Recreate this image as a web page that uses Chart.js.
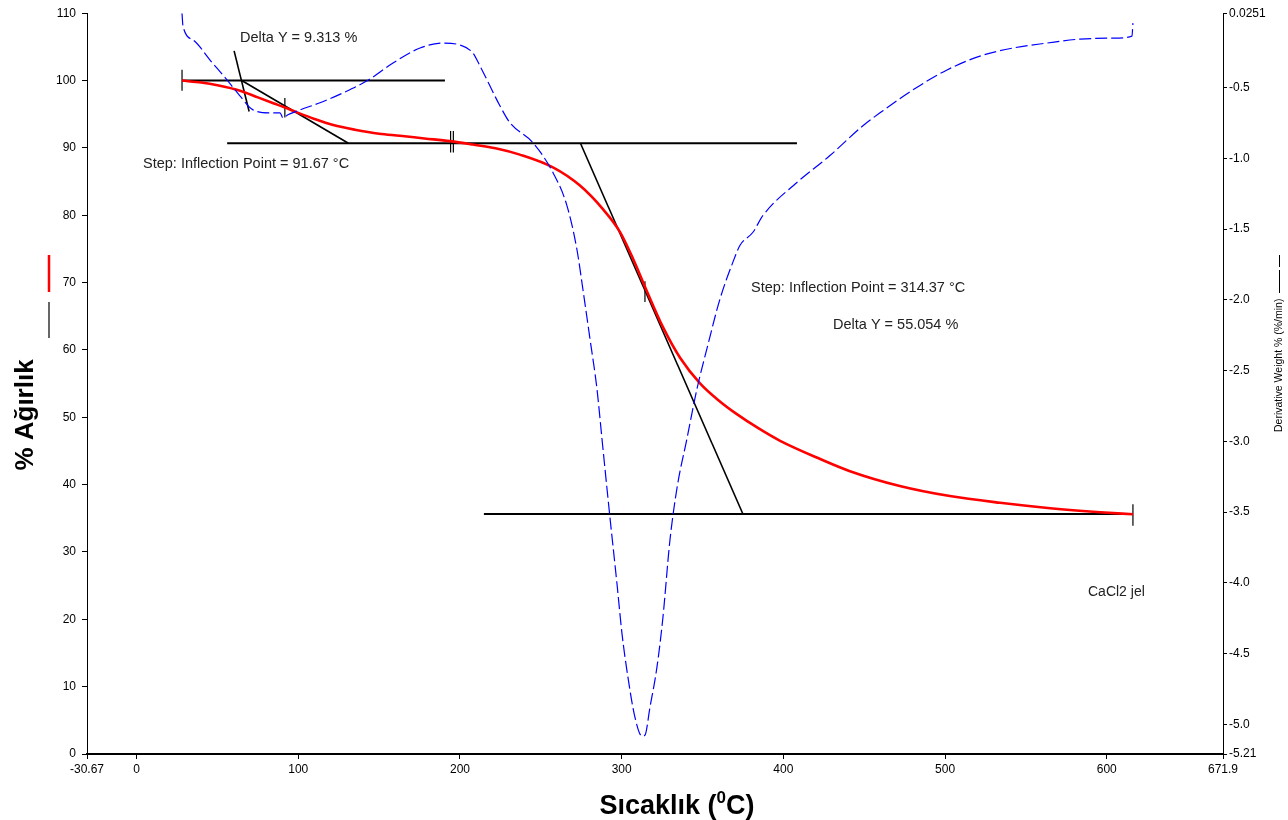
<!DOCTYPE html>
<html>
<head>
<meta charset="utf-8">
<script src="https://cdn.jsdelivr.net/npm/chart.js@4.4.1/dist/chart.umd.min.js"></script>
<style>
  html, body { margin: 0; padding: 0; background: #fff; }
  canvas { display: block; }
</style>
</head>
<body>
<canvas id="tgaChart" width="1288" height="820"></canvas>
<script>
// weight curve (red), left axis
const tgaTemp = [28.1, 40, 50, 64, 75, 85, 91.7, 100, 110, 121.6, 135, 150, 162.8, 178, 193.8, 208, 222, 237, 257.5, 274.2, 288.4, 299, 307.1, 315.8, 325.7, 336.2, 348.6, 360, 371, 385, 398, 422.8, 441.2, 472, 503, 534, 565, 596, 616.2];
const tgaWeight = [100.0, 99.7, 99.3, 98.5, 97.5, 96.6, 96.0, 95.2, 94.3, 93.4, 92.7, 92.1, 91.8, 91.4, 91.0, 90.5, 89.95, 89.0, 87.1, 84.4, 80.9, 77.5, 73.5, 68.6, 63.3, 58.8, 55.0, 52.5, 50.5, 48.3, 46.5, 43.8, 42.0, 39.8, 38.3, 37.3, 36.5, 35.9, 35.6];

// derivative curve (blue dashed), right axis
const dtgTemp = [28.08, 28.7, 35.1, 45.4, 55.9, 63.9, 72.0, 82.5, 88.7, 90.5, 93.6, 101.1, 113.4, 127.7, 142.5, 158.6, 175.3, 189.5, 200, 208, 212.4, 224.7, 230.9, 245.1, 257.5, 266.1, 272.3, 276, 280.4, 284.7, 287.8, 290.9, 292.8, 297.1, 300.2, 303.9, 308.2, 312.6, 314.4, 317.5, 321.8, 325.5, 329.8, 334.2, 340.4, 346.6, 352.7, 360.8, 368.8, 373.2, 381.2, 387.4, 408.4, 428.8, 449.2, 461.6, 480.1, 501.2, 521.6, 542, 563, 583.5, 603.9, 615.6, 616.2];
const dtgDeriv = [0.025, -0.066, -0.165, -0.306, -0.446, -0.559, -0.658, -0.679, -0.679, -0.714, -0.693, -0.658, -0.608, -0.538, -0.453, -0.327, -0.221, -0.186, -0.200, -0.256, -0.348, -0.629, -0.749, -0.890, -1.101, -1.333, -1.643, -1.924, -2.276, -2.628, -2.980, -3.332, -3.543, -4.007, -4.359, -4.669, -4.950, -5.084, -5.077, -4.880, -4.598, -4.247, -3.705, -3.332, -2.980, -2.628, -2.347, -1.995, -1.734, -1.615, -1.523, -1.404, -1.171, -0.981, -0.770, -0.664, -0.517, -0.376, -0.278, -0.221, -0.186, -0.158, -0.151, -0.137, -0.045];

// step analysis lines, [t1, w1, t2, w2] on the weight axis
const baseLines = [
  [28.1, 100, 190.7, 100],
  [56, 90.687, 408.4, 90.687],
  [214.8, 35.633, 616.2, 35.633]
];
const tangentLines = [
  [60.3, 104.4, 69.6, 95.4],
  [65.0, 100, 131.0, 90.687],
  [274.5, 90.687, 375.0, 35.633]
];
const markTicks = [
  [28.1, 101.6, 28.1, 98.5],
  [91.7, 97.4, 91.7, 94.5],
  [194.2, 92.5, 194.2, 89.3],
  [195.9, 92.5, 195.9, 89.3],
  [314.4, 70.2, 314.4, 67.1],
  [616.2, 37.1, 616.2, 33.9]
];

const xTicks = [-30.67, 0, 100, 200, 300, 400, 500, 600, 671.9];
const yTicks = [0, 10, 20, 30, 40, 50, 60, 70, 80, 90, 100, 110];
const y2Ticks = [-5.21, -5.0, -4.5, -4.0, -3.5, -3.0, -2.5, -2.0, -1.5, -1.0, -0.5, 0.0251];

const FONT = '"Liberation Sans", Arial, sans-serif';

function toPoints(xs, ys) {
  return xs.map((x, i) => ({ x: x, y: ys[i] }));
}

function segDatasets(list, width) {
  return list.map(s => ({
    data: [{ x: s[0], y: s[1] }, { x: s[2], y: s[3] }],
    yAxisID: 'y',
    borderColor: '#000',
    borderWidth: width,
    pointRadius: 0,
    showLine: true,
    tension: 0
  }));
}

const datasets = [
  {
    label: 'Derivative Weight',
    data: toPoints(dtgTemp, dtgDeriv),
    yAxisID: 'y1',
    borderColor: '#0000ff',
    borderWidth: 1.2,
    borderDash: [12, 4],
    pointRadius: 0,
    showLine: true,
    cubicInterpolationMode: 'monotone'
  },
  {
    label: 'Weight',
    data: toPoints(tgaTemp, tgaWeight),
    yAxisID: 'y',
    borderColor: '#ff0000',
    borderWidth: 2.6,
    pointRadius: 0,
    showLine: true,
    cubicInterpolationMode: 'monotone'
  }
].concat(segDatasets(baseLines, 2), segDatasets(tangentLines, 1.6), segDatasets(markTicks, 1.2));

// titles, annotation texts and the little legend samples
const decorations = {
  id: 'decorations',
  afterDraw(chart) {
    const ctx = chart.ctx;
    ctx.save();
    ctx.fillStyle = '#000';

    // left title
    ctx.save();
    ctx.translate(26, 415);
    ctx.rotate(-Math.PI / 2);
    ctx.font = 'bold 26px ' + FONT;
    ctx.textAlign = 'center';
    ctx.textBaseline = 'middle';
    ctx.fillText('% Ağırlık', 0, 0);
    ctx.restore();

    // bottom title with superscript 0
    const partA = 'Sıcaklık (', partB = '0', partC = 'C)';
    ctx.font = 'bold 27px ' + FONT;
    const wa = ctx.measureText(partA).width;
    const wc = ctx.measureText(partC).width;
    ctx.font = 'bold 17px ' + FONT;
    const wb = ctx.measureText(partB).width;
    let x0 = 677 - (wa + wb + wc) / 2;
    ctx.textBaseline = 'alphabetic';
    ctx.textAlign = 'left';
    ctx.font = 'bold 27px ' + FONT;
    ctx.fillText(partA, x0, 814);
    ctx.font = 'bold 17px ' + FONT;
    ctx.fillText(partB, x0 + wa, 803);
    ctx.font = 'bold 27px ' + FONT;
    ctx.fillText(partC, x0 + wa + wb, 814);

    // right title
    ctx.save();
    ctx.translate(1279, 432);
    ctx.rotate(-Math.PI / 2);
    ctx.font = '10.5px ' + FONT;
    ctx.textAlign = 'left';
    ctx.textBaseline = 'middle';
    ctx.fillText('Derivative Weight % (%/min)', 0, 0);
    ctx.restore();

    ctx.strokeStyle = '#000';
    ctx.lineWidth = 1;
    ctx.beginPath();
    ctx.moveTo(1279.5, 293); ctx.lineTo(1279.5, 270);
    ctx.moveTo(1279.5, 267); ctx.lineTo(1279.5, 255);
    ctx.stroke();

    // left legend samples
    ctx.strokeStyle = '#ff0000';
    ctx.lineWidth = 2.5;
    ctx.beginPath();
    ctx.moveTo(49, 255); ctx.lineTo(49, 292);
    ctx.stroke();
    ctx.strokeStyle = '#000';
    ctx.lineWidth = 1.2;
    ctx.beginPath();
    ctx.moveTo(49, 302); ctx.lineTo(49, 338);
    ctx.stroke();

    // annotation texts
    ctx.font = '14.5px ' + FONT;
    ctx.fillStyle = '#222';
    ctx.textAlign = 'left';
    ctx.textBaseline = 'middle';
    ctx.fillText('Delta Y = 9.313 %', 240, 38);
    ctx.fillText('Step: Inflection Point = 91.67 °C', 143, 164);
    ctx.fillText('Step: Inflection Point = 314.37 °C', 751, 288);
    ctx.fillText('Delta Y = 55.054 %', 833, 325);
    ctx.font = '14px ' + FONT;
    ctx.fillText('CaCl2 jel', 1088, 592);
    ctx.restore();
  }
};

const ctx = document.getElementById('tgaChart').getContext('2d');
const chart = new Chart(ctx, {
  type: 'scatter',
  data: { datasets: datasets },
  options: {
    responsive: false,
    animation: false,
    layout: { padding: { top: 10, left: 0, right: 0, bottom: 0 } },
    plugins: {
      legend: { display: false },
      tooltip: { enabled: false }
    },
    scales: {
      x: {
        type: 'linear',
        position: 'bottom',
        min: -30.67,
        max: 671.9,
        afterBuildTicks: s => { s.ticks = xTicks.map(v => ({ value: v })); },
        afterFit: s => { s.height = 66; },
        grid: { drawOnChartArea: false, drawTicks: true, tickLength: 5, color: '#000', tickWidth: 1 },
        border: { display: true, color: '#000', width: 2 },
        ticks: {
          autoSkip: false, maxRotation: 0, padding: 3, color: '#000',
          font: { family: FONT, size: 12 },
          callback: v => String(v)
        }
      },
      y: {
        type: 'linear',
        position: 'left',
        min: 0,
        max: 110,
        afterBuildTicks: s => { s.ticks = yTicks.map(v => ({ value: v })); },
        afterFit: s => { s.width = 87; },
        grid: { drawOnChartArea: false, drawTicks: true, tickLength: 5, color: '#000' },
        border: { display: true, color: '#000', width: 1 },
        ticks: {
          autoSkip: false, padding: 6, color: '#000',
          font: { family: FONT, size: 12 },
          callback: v => String(v)
        }
      },
      y1: {
        type: 'linear',
        position: 'right',
        min: -5.21,
        max: 0.0251,
        afterBuildTicks: s => { s.ticks = y2Ticks.map(v => ({ value: v })); },
        afterFit: s => { s.width = 65; },
        grid: { drawOnChartArea: false, drawTicks: true, tickLength: 4, color: '#000' },
        border: { display: true, color: '#000', width: 1 },
        ticks: {
          autoSkip: false, padding: 2, color: '#000',
          font: { family: FONT, size: 12 },
          callback: v => (v === -5.21 || v === 0.0251) ? String(v) : v.toFixed(1)
        }
      }
    }
  },
  plugins: [decorations]
});
</script>
</body>
</html>
